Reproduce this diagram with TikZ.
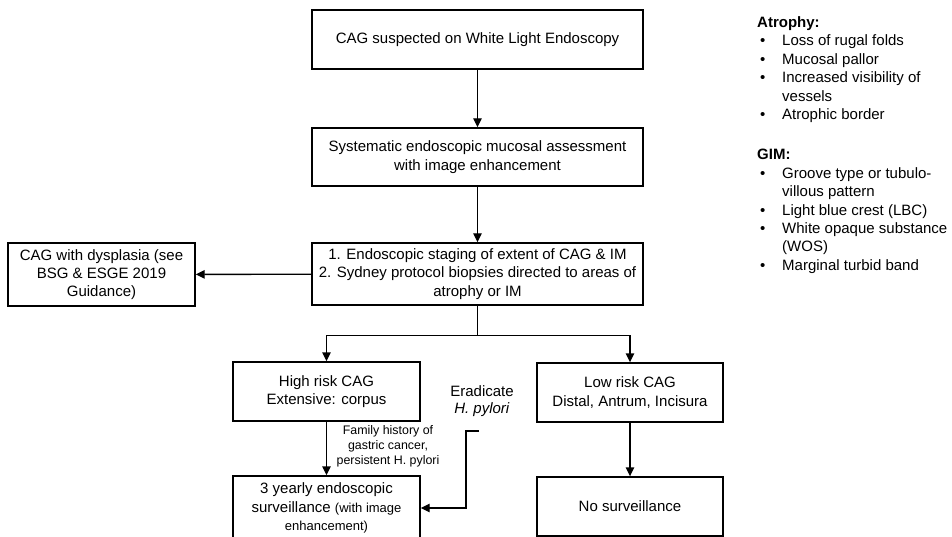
\documentclass[tikz,border=0pt]{standalone}
\usepackage{fontspec}
\setmainfont{Liberation Sans}
\usetikzlibrary{arrows.meta,calc}
\tikzset{
  box/.style={draw, line width=1.4pt, inner sep=0pt, align=center, font=\fontsize{15}{18.3}\selectfont},
  arr/.style={line width=1.4pt, -{Triangle[length=9pt,width=8.5pt]}},
  ln/.style={line width=1.4pt},
  txt/.style={inner sep=0pt, font=\fontsize{15}{18.3}\selectfont},
  small/.style={inner sep=0pt, align=center, font=\fontsize{12.4}{15}\selectfont},
}
\begin{document}
\begin{tikzpicture}[x=1pt,y=-1pt]
\clip (0,0) rectangle (952,537);
\fill[white] (0,0) rectangle (952,537);

\node[box, minimum width=331pt, minimum height=59pt] (b1) at (477.5,39.5) {CAG suspected on White Light Endoscopy};
\node[box, minimum width=331pt, minimum height=58pt] (b2) at (477.5,157) {Systematic endoscopic mucosal assessment\\with image enhancement};
\node[box, minimum width=331pt, minimum height=62pt] (b3) at (477.5,274) {1. Endoscopic staging of extent of CAG \& IM\\2. Sydney protocol biopsies directed to areas of\\atrophy or IM};
\node[box, minimum width=187pt, minimum height=63pt] (dys) at (101.5,274.5) {CAG with dysplasia (see\\BSG \& ESGE 2019\\Guidance)};
\node[box, minimum width=187pt, minimum height=59pt] (high) at (326.5,391.5) {High risk CAG\\Extensive: corpus};
\node[box, minimum width=186pt, minimum height=59pt] (low) at (630,392.5) {Low risk CAG\\Distal, Antrum, Incisura};
\node[box, minimum width=186pt, minimum height=59pt] (nos) at (630,506.5) {No surveillance};
\node[box, minimum width=187pt, minimum height=64pt] (three) at (326.5,508) {3 yearly endoscopic\\surveillance {\fontsize{13}{15}\selectfont(with image}\\{\fontsize{13}{15}\selectfont enhancement)}};

\node[small] (fam) at (388,446) {Family history of\\gastric cancer,\\persistent H. pylori};
\node[txt, align=center, font=\fontsize{15}{17}\selectfont] (erad) at (482,401) {Eradicate\\\textit{H. pylori}};
\coordinate (e1) at (479,431);

\draw[arr] (b1) -- (b2);
\draw[arr] (b2) -- (b3);
\draw[arr] (b3) -- (dys);
\draw[ln] (b3.south) -- ++(0,30) coordinate (br);
\draw[arr] (br) -| (high.north);
\draw[arr] (br) -| (low.north);
\draw[arr] (high) -- (three);
\draw[arr] (low) -- (nos);
\draw[arr] (e1) -- ++(-13,0) |- (three.east);

% right-hand legend
\node[txt, anchor=base west, font=\fontsize{15}{18}\selectfont\bfseries] (hA) at (757,27.5) {Atrophy:};
\node[txt, anchor=base west] (a1) at (782,46) {Loss of rugal folds};
\node[txt, anchor=base west] (a2) at (782,64.5) {Mucosal pallor};
\node[txt, anchor=base west] (a3) at (782,83) {Increased visibility of};
\node[txt, anchor=base west] (a3b) at (782,101.3) {vessels};
\node[txt, anchor=base west] (a4) at (782,119.6) {Atrophic border};
\node[txt, anchor=base west, font=\fontsize{15}{18}\selectfont\bfseries] (hG) at (757,160) {GIM:};
\node[txt, anchor=base west] (g1) at (782,178.5) {Groove type or tubulo-};
\node[txt, anchor=base west] (g1b) at (782,196.8) {villous pattern};
\node[txt, anchor=base west] (g2) at (782,215.1) {Light blue crest (LBC)};
\node[txt, anchor=base west] (g3) at (782,233.4) {White opaque substance};
\node[txt, anchor=base west] (g3b) at (782,251.7) {(WOS)};
\node[txt, anchor=base west] (g4) at (782,270) {Marginal turbid band};
\foreach \n in {a1,a2,a3,a4,g1,g2,g3,g4}
  \node[txt, anchor=base west] (bul-\n) at ($(\n.base west)+(-22,0)$) {\textbullet};
\end{tikzpicture}
\end{document}
